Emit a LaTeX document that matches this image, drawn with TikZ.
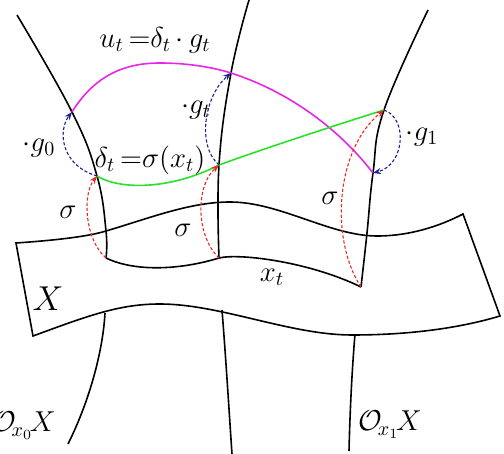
\documentclass[tikz,border=0pt]{standalone}
\usepackage{amsmath}
\usepackage{tikz}
\usetikzlibrary{arrows.meta,positioning}

\definecolor{sectgreen}{RGB}{40,225,40}
\definecolor{loopmagenta}{RGB}{230,40,230}
\definecolor{actblue}{RGB}{30,30,140}
\definecolor{sigred}{RGB}{235,40,40}

\begin{document}
\begin{tikzpicture}[x=0.5pt,y=-0.5pt,>={Stealth[length=4pt,width=3pt]},
  fiber/.style={line width=0.8pt, black},
  curveline/.style={line width=0.8pt},
  actarrow/.style={->, actblue, line width=0.55pt, dash pattern=on 1.6pt off 1pt},
  sigarrow/.style={->, sigred, line width=0.55pt, dash pattern=on 1.6pt off 1pt},
  lab/.style={font=\Large, inner sep=0pt}]
\useasboundingbox (0,0) rectangle (504,454);
% points on the three orbits
\coordinate (x0) at (106,258);
\coordinate (s0) at (97,176);
\coordinate (u0) at (72,112);
\coordinate (xm) at (219,258);
\coordinate (sm) at (219,165);
\coordinate (um) at (231,73);
\coordinate (x1) at (361,287);
\coordinate (s1) at (384,110);
\coordinate (u1) at (373,173);
% the band X
\draw[fiber] (16,243) .. controls (60,240) and (90,236) .. (106,231) .. controls (150,218) and (190,202) .. (230,202) .. controls (280,202) and (330,236) .. (377,236) .. controls (410,236) and (440,226) .. (463,214) -- (500,316) .. controls (460,328) and (410,335) .. (352,335) .. controls (290,335) and (220,304) .. (160,304) .. controls (120,304) and (90,315) .. (33,336) -- cycle;
\draw[fiber] (x0) .. controls (135,272) and (180,270) .. (xm) .. controls (240,253) and (310,262) .. (x1);
% orbits
\draw[fiber] plot[smooth, tension=0.7] coordinates {(17,15) (u0) (s0) (106,231) (x0)};
\draw[fiber] (105,313) .. controls (103,350) and (90,400) .. (68,444);
\draw[fiber] plot[smooth, tension=0.7] coordinates {(249,0) (um) (sm) (xm)};
\draw[fiber] (222,310) .. controls (226,360) and (229,410) .. (232,454);
\draw[fiber] plot[smooth, tension=0.7] coordinates {(428,10) (s1) (u1) (367,233) (x1)};
\draw[fiber] (355,334) .. controls (352,370) and (350,410) .. (349,451);
% sections
\draw[curveline, loopmagenta] (u0) .. controls (95,75) and (125,63) .. (160,63) .. controls (190,63) and (215,68) .. (um) .. controls (290,92) and (340,130) .. (u1);
\draw[curveline, sectgreen] (s0) .. controls (120,190) and (170,190) .. (sm) .. controls (260,150) and (330,127) .. (s1);
% group action
\draw[actarrow] (s0) .. controls (60,165) and (58,130) .. (u0);
\draw[actarrow] (sm) .. controls (196,145) and (205,95) .. (um);
\draw[actarrow] (s1) .. controls (408,118) and (405,165) .. (u1);
% sigma
\draw[sigarrow] (x0) .. controls (85,240) and (82,195) .. (s0);
\draw[sigarrow] (xm) .. controls (195,235) and (196,185) .. (sm);
\draw[sigarrow] (x1) .. controls (330,240) and (335,150) .. (s1);
% labels
\node[lab] (utlab) at (155,40) {$u_t\,{=}\delta_t\,{\cdot}\,g_t$};
\node[lab] (dtlab) at (150,160) {$\delta_t\,{=}\sigma(x_t)$};
\node[lab] (g0lab) at (39,148) {${\cdot}g_0$};
\node[lab] (gtlab) at (196,110) {${\cdot}g_t$};
\node[lab] (g1lab) at (422,137) {${\cdot}g_1$};
\node[lab] (sig0lab) at (68,212) {$\sigma$};
\node[lab] (sigmlab) at (183,230) {$\sigma$};
\node[lab] (sig1lab) at (330,198) {$\sigma$};
\node[lab] (xtlab) at (272,277) {$x_t$};
\node[lab, font=\LARGE] (Xlab) at (48,299) {$X$};
\node[lab, anchor=base east] (orb0lab) at (56,432) {$\mathcal{O}_{\!x_0}\mskip-2mu X$};
\node[lab, anchor=base west] (orb1lab) at (358,431) {$\mathcal{O}_{\!x_1}\mskip-2mu X$};
\end{tikzpicture}
\end{document}
